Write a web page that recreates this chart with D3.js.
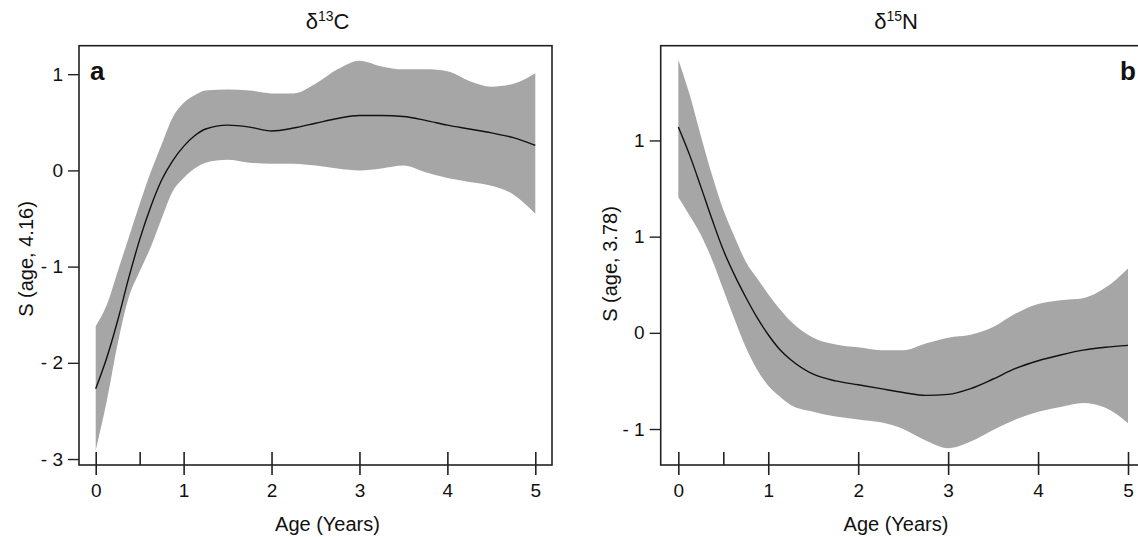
<!DOCTYPE html>
<html>
<head>
<meta charset="utf-8">
<script src="https://cdn.jsdelivr.net/npm/d3@7"></script>
<style>
    body { margin: 0; background: #fff; }
    svg text { font-family: "Liberation Sans", Arial, sans-serif; fill: #111; }
</style>
</head>
<body>
<svg id="chart" width="1138" height="537"></svg>
<script>
// ages shared by both smooths (years)
var ages = [0, 0.125, 0.25, 0.375, 0.5, 0.625, 0.75, 0.875, 1, 1.125, 1.25, 1.5, 1.75,
            2, 2.25, 2.5, 2.75, 3, 3.25, 3.5, 3.75, 4, 4.25, 4.5, 4.75, 5];

// panel a: d13C smooth term, with confidence band
var carbonFit = [-2.27, -1.95, -1.56, -1.12, -0.72, -0.38, -0.10, 0.10, 0.25, 0.36, 0.43, 0.47, 0.45,
                 0.41, 0.44, 0.49, 0.54, 0.57, 0.57, 0.56, 0.52, 0.47, 0.43, 0.39, 0.34, 0.26];
var carbonUpper = [-1.62, -1.40, -1.05, -0.70, -0.35, -0.02, 0.27, 0.55, 0.70, 0.78, 0.83, 0.84, 0.83,
                   0.80, 0.80, 0.90, 1.05, 1.14, 1.08, 1.05, 1.05, 1.03, 0.93, 0.87, 0.90, 1.01];
var carbonLower = [-2.91, -2.40, -1.80, -1.32, -1.05, -0.80, -0.50, -0.22, -0.08, 0.02, 0.08, 0.11, 0.08,
                   0.07, 0.07, 0.05, 0.02, 0.00, 0.02, 0.05, -0.02, -0.08, -0.12, -0.16, -0.25, -0.45];

// panel b: d15N smooth term, with confidence band
var nitrogenFit = [2.14, 1.85, 1.52, 1.18, 0.86, 0.60, 0.37, 0.16, -0.02, -0.17, -0.28, -0.43, -0.50,
                   -0.54, -0.58, -0.62, -0.65, -0.64, -0.58, -0.48, -0.37, -0.29, -0.23, -0.18, -0.15, -0.13];
var nitrogenUpper = [2.84, 2.48, 2.05, 1.64, 1.28, 1.00, 0.74, 0.57, 0.40, 0.25, 0.12, -0.05, -0.12,
                     -0.15, -0.18, -0.18, -0.11, -0.05, -0.02, 0.06, 0.20, 0.30, 0.34, 0.36, 0.47, 0.67];
var nitrogenLower = [1.41, 1.22, 1.02, 0.76, 0.45, 0.14, -0.15, -0.38, -0.55, -0.66, -0.75, -0.82, -0.87,
                     -0.90, -0.93, -1.00, -1.12, -1.20, -1.13, -1.01, -0.90, -0.82, -0.77, -0.73, -0.78, -0.94];

// ticks
var xTicks = [0, 1, 2, 3, 4, 5];
var xTicksAll = [0, 0.5, 1, 2, 3, 4, 5];
var carbonYTicks = [-3, -2, -1, 0, 1];
var carbonYLabels = ['- 3', '- 2', '- 1', '0', '1'];
var nitrogenYTicks = [-1, 0, 1, 2];
var nitrogenYLabels = ['- 1', '0', '1', '1'];

var svg = d3.select('#chart');

function drawPanel(p) {
    var x = d3.scaleLinear().domain(p.xDomain).range([p.left, p.right]);
    var y = d3.scaleLinear().domain(p.yDomain).range([p.bottom, p.top]);
    var g = svg.append('g');

    var rows = ages.map(function(a, i) {
        return {age: a, fit: p.fit[i], hi: p.upper[i], lo: p.lower[i]};
    });

    // confidence band
    g.append('path')
        .datum(rows)
        .attr('fill', '#a6a6a6')
        .attr('d', d3.area()
            .x(function(d) { return x(d.age); })
            .y0(function(d) { return y(d.lo); })
            .y1(function(d) { return y(d.hi); })
            .curve(d3.curveMonotoneX));

    g.append('path')
        .datum(rows)
        .attr('fill', 'none')
        .attr('stroke', '#111')
        .attr('stroke-width', 1.4)
        .attr('d', d3.line()
            .x(function(d) { return x(d.age); })
            .y(function(d) { return y(d.fit); })
            .curve(d3.curveMonotoneX));

    // frame
    g.append('rect')
        .attr('x', p.left).attr('y', p.top)
        .attr('width', p.right - p.left).attr('height', p.bottom - p.top)
        .attr('fill', 'none').attr('stroke', '#222').attr('stroke-width', 1.6);

    // y axis
    var yAxis = g.append('g')
        .attr('transform', 'translate(' + p.left + ',0)')
        .call(d3.axisLeft(y).tickValues(p.yTicks).tickSize(11).tickPadding(5)
            .tickFormat(function(d, i) { return p.yLabels[i]; }));
    yAxis.select('.domain').remove();
    yAxis.selectAll('line').attr('stroke', '#222').attr('stroke-width', 1.4);
    yAxis.selectAll('text').style('font-size', '19px').attr('fill', '#111');

    // x ticks going up into the frame (incl. the half-year tick)
    var xUp = g.append('g')
        .attr('transform', 'translate(0,' + p.bottom + ')')
        .call(d3.axisTop(x).tickValues(xTicksAll).tickSize(13).tickFormat(''));
    xUp.select('.domain').remove();
    xUp.selectAll('line').attr('stroke', '#222').attr('stroke-width', 1.6);

    var xAxis = g.append('g')
        .attr('transform', 'translate(0,' + p.bottom + ')')
        .call(d3.axisBottom(x).tickValues(xTicks).tickSize(10).tickPadding(9)
            .tickFormat(d3.format('d')));
    xAxis.select('.domain').remove();
    xAxis.selectAll('line').attr('stroke', '#222').attr('stroke-width', 1.6);
    xAxis.selectAll('text').style('font-size', '19px').attr('fill', '#111');

    // titles
    var title = g.append('text')
        .attr('x', p.titleX).attr('y', 29)
        .attr('text-anchor', 'middle')
        .style('font-size', '22px');
    title.append('tspan').text('δ');
    title.append('tspan').attr('dy', -8).style('font-size', '14px').text(p.isotope);
    title.append('tspan').attr('dy', 8).text(p.element);

    g.append('text')
        .attr('x', p.titleX).attr('y', 531)
        .attr('text-anchor', 'middle')
        .style('font-size', '20px')
        .text('Age (Years)');

    g.append('text')
        .attr('transform', 'translate(' + p.yTitleX + ',' + p.yTitleY + ') rotate(-90)')
        .attr('text-anchor', 'middle')
        .style('font-size', '20px')
        .text(p.yTitle);

    g.append('text')
        .attr('x', p.letterX).attr('y', 80)
        .attr('text-anchor', p.letterAnchor)
        .style('font-size', '26px')
        .style('font-weight', 'bold')
        .text(p.letter);
}

drawPanel({
    left: 79, right: 552, top: 45.7, bottom: 465,
    xDomain: [-0.19, 5.19], yDomain: [-3.062, 1.296],
    fit: carbonFit, upper: carbonUpper, lower: carbonLower,
    yTicks: carbonYTicks, yLabels: carbonYLabels,
    isotope: '13', element: 'C', titleX: 327.5,
    yTitle: 'S (age, 4.16)', yTitleX: 33, yTitleY: 259,
    letter: 'a', letterX: 90, letterAnchor: 'start'
});

drawPanel({
    left: 660.7, right: 1146, top: 45.7, bottom: 465,
    xDomain: [-0.196, 5.2], yDomain: [-1.374, 2.985],
    fit: nitrogenFit, upper: nitrogenUpper, lower: nitrogenLower,
    yTicks: nitrogenYTicks, yLabels: nitrogenYLabels,
    isotope: '15', element: 'N', titleX: 896,
    yTitle: 'S (age, 3.78)', yTitleX: 617, yTitleY: 264,
    letter: 'b', letterX: 1136, letterAnchor: 'end'
});
</script>
</body>
</html>
